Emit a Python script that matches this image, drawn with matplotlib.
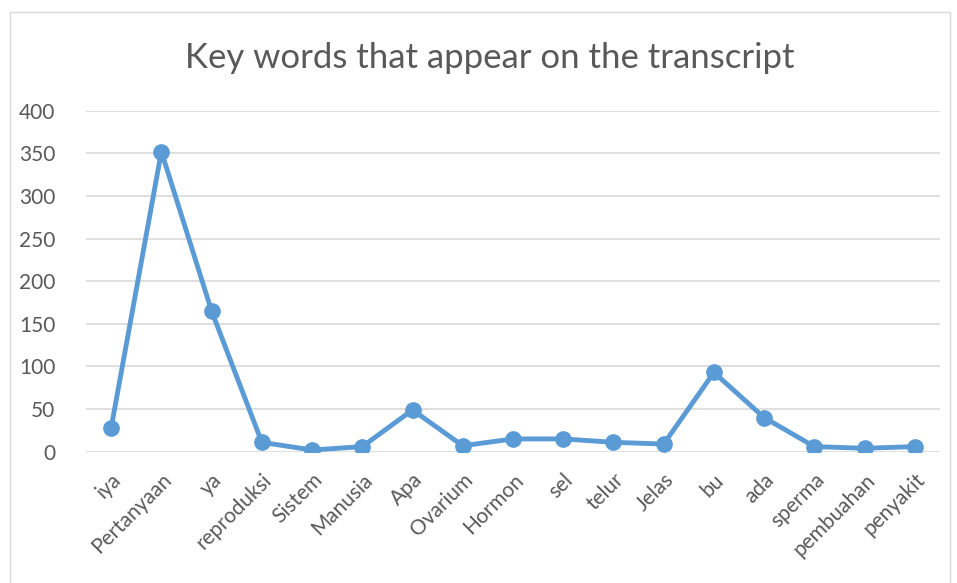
import matplotlib.pyplot as plt
from matplotlib.patches import Rectangle

# ======================================
# DATA
# ======================================

words = ["iya", "Pertanyaan", "ya", "reproduksi", "Sistem", "Manusia", "Apa",
         "Ovarium", "Hormon", "sel", "telur", "Jelas", "bu", "ada", "sperma",
         "pembuahan", "penyakit"]
counts = [28, 352, 165, 11, 2, 6, 49, 7, 15, 15, 11, 9, 93, 40, 6, 4, 6]
y_ticks = [0, 50, 100, 150, 200, 250, 300, 350, 400]

# ======================================
# PLOT
# ======================================

plt.rcParams["font.family"] = ["Lato", "DejaVu Sans"]
text_color = "#595959"
line_color = "#5B9BD5"

fig = plt.figure(figsize=(9.57, 5.83), dpi=100)
ax = fig.add_axes([0.0899, 0.2252, 0.8923, 0.5849])

x = list(range(len(words)))
ax.plot(x, counts, color=line_color, linewidth=3.5, marker="o",
        markersize=11, zorder=3)

ax.set_xlim(-0.5, len(words) - 0.5)
ax.set_ylim(0, 400)
ax.set_yticks(y_ticks)
ax.set_yticklabels([str(v) for v in y_ticks], color=text_color, fontsize=15)
ax.set_xticks(x)
ax.set_xticklabels(words, rotation=45, ha="right", rotation_mode="anchor",
                   color=text_color, fontsize=15)

ax.grid(axis="y", color="#D9D9D9", linewidth=1.2)
ax.set_axisbelow(True)
for s in ax.spines.values():
    s.set_visible(False)
ax.tick_params(axis="y", length=0, pad=22)
ax.tick_params(axis="x", length=0, pad=13)

fig.text(0.512, 0.900, "Key words that appear on the transcript",
         ha="center", va="center", fontsize=25, color=text_color)

# outer chart border
fig.patches.append(Rectangle((10 / 957, -0.01), 940 / 957, 0.99,
                             transform=fig.transFigure, fill=False,
                             edgecolor="#D9D9D9", linewidth=1))

fig.savefig("out.png", dpi=100)
